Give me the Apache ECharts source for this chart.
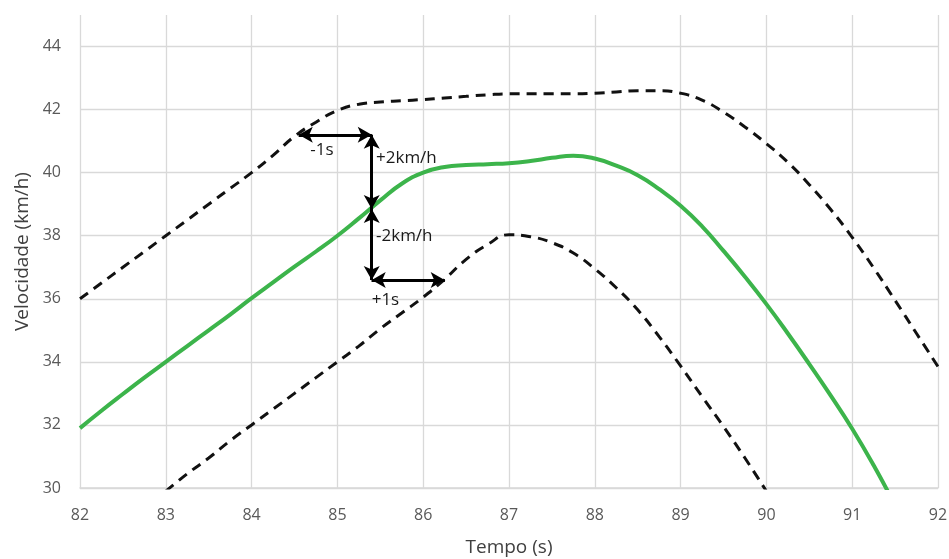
<!DOCTYPE html>
<html>
<head>
<meta charset="utf-8">
<script src="https://cdn.jsdelivr.net/npm/echarts@6/dist/echarts.min.js"></script>
<style>
  html, body { margin: 0; padding: 0; background: #fff; }
  #main { width: 949px; height: 559px; }
</style>
</head>
<body>
<div id="main"></div>
<script>
// measured speed (green) and the +/- tolerance bands (dashed), read every 0.25 s
// (points just below 30 are clipped by the grid)
const speed = [
  [82, 31.9], [82.25, 32.45], [82.5, 32.98], [82.75, 33.5], [83, 34.0], [83.25, 34.5],
  [83.5, 35.0], [83.75, 35.5], [84, 36.02], [84.25, 36.52], [84.5, 37.02], [84.75, 37.5],
  [85, 38.0], [85.25, 38.55], [85.5, 39.12], [85.75, 39.65], [86, 40.0], [86.25, 40.18],
  [86.5, 40.24], [86.75, 40.27], [87, 40.3], [87.25, 40.37], [87.5, 40.47], [87.75, 40.54],
  [88, 40.45], [88.25, 40.22], [88.5, 39.92], [88.75, 39.48], [89, 38.95], [89.25, 38.3],
  [89.5, 37.52], [89.75, 36.7], [90, 35.83], [90.25, 34.9], [90.5, 33.93], [90.75, 32.93],
  [91, 31.88], [91.25, 30.72], [91.5, 29.45]
];
const upperBand = [
  [82, 36.0], [82.25, 36.5], [82.5, 37.0], [82.75, 37.5], [83, 38.0], [83.25, 38.5],
  [83.5, 39.0], [83.75, 39.5], [84, 40.0], [84.25, 40.55], [84.5, 41.15], [84.75, 41.6],
  [85, 41.97], [85.25, 42.17], [85.5, 42.24], [85.75, 42.28], [86, 42.32], [86.25, 42.37],
  [86.5, 42.42], [86.75, 42.47], [87, 42.5], [87.25, 42.5], [87.5, 42.5], [87.75, 42.5],
  [88, 42.52], [88.25, 42.56], [88.5, 42.6], [88.75, 42.6], [89, 42.52], [89.25, 42.3],
  [89.5, 41.92], [89.75, 41.45], [90, 40.92], [90.25, 40.33], [90.5, 39.62], [90.75, 38.83],
  [91, 37.95], [91.25, 36.98], [91.5, 35.95], [91.75, 34.9], [92, 33.85]
];
const lowerBand = [
  [83, 29.9], [83.25, 30.45], [83.5, 30.95], [83.75, 31.5], [84, 32.0], [84.25, 32.5],
  [84.5, 33.0], [84.75, 33.5], [85, 34.0], [85.25, 34.5], [85.5, 35.05], [85.75, 35.55],
  [86, 36.05], [86.25, 36.62], [86.5, 37.25], [86.75, 37.72], [87, 38.03], [87.25, 37.97],
  [87.5, 37.78], [87.75, 37.45], [88, 36.95], [88.25, 36.35], [88.5, 35.65], [88.75, 34.8],
  [89, 33.87], [89.25, 32.9], [89.5, 31.95], [89.75, 30.95], [90, 29.9]
];

// tolerance arrows: [from, to]
const arrows = [
  [[85.4, 41.2], [84.55, 41.2]],
  [[85.4, 41.2], [85.4, 38.85]],
  [[85.4, 38.85], [85.4, 36.6]],
  [[85.4, 36.6], [86.25, 36.6]]
];
const arrowTexts = [
  { text: '-1s', at: [84.82, 40.71], align: 'center' },
  { text: '+2km/h', at: [85.45, 40.45], align: 'left' },
  { text: '-2km/h', at: [85.45, 38.0], align: 'left' },
  { text: '+1s', at: [85.56, 35.96], align: 'center' }
];

const chart = echarts.init(document.getElementById('main'));

const font = '"Open Sans", "Noto Sans", sans-serif';
const gridColor = '#d9d9d9';

chart.setOption({
  animation: false,
  textStyle: { fontFamily: font },
  grid: { left: 80, right: 11, top: 15, bottom: 71, outerBoundsMode: 'none' },
  xAxis: {
    type: 'value',
    min: 82,
    max: 92,
    interval: 1,
    name: 'Tempo (s)',
    nameLocation: 'middle',
    nameGap: 50,
    nameTextStyle: { fontSize: 19, color: '#404040', fontFamily: font },
    axisLine: { show: true, lineStyle: { color: gridColor, width: 1.5 } },
    axisTick: { show: false },
    axisLabel: { margin: 19, fontSize: 16, color: '#595959', fontFamily: font },
    splitLine: { show: true, lineStyle: { color: gridColor, width: 1.3 } }
  },
  yAxis: {
    type: 'value',
    min: 30,
    max: 45,
    interval: 2,
    name: 'Velocidade (km/h)',
    nameLocation: 'middle',
    nameGap: 48,
    nameTextStyle: { fontSize: 19, color: '#404040', fontFamily: font },
    axisLine: { show: false },
    axisTick: { show: false },
    axisLabel: {
      margin: 19,
      fontSize: 16,
      color: '#595959',
      fontFamily: font,
      formatter: (v) => (v % 2 === 0 ? String(v) : '')
    },
    splitLine: { show: true, showMaxLine: false, lineStyle: { color: gridColor, width: 1.3 } }
  },
  series: [
    {
      name: 'Upper',
      type: 'line',
      data: upperBand,
      smooth: 0.5,
      symbol: 'none',
      lineStyle: { color: '#111', width: 3, type: [10, 7] }
    },
    {
      name: 'Lower',
      type: 'line',
      data: lowerBand,
      smooth: 0.5,
      symbol: 'none',
      lineStyle: { color: '#111', width: 3, type: [10, 7] }
    },
    {
      name: 'Velocidade',
      type: 'line',
      data: speed,
      smooth: 0.5,
      symbol: 'none',
      lineStyle: { color: '#3cb44b', width: 4 },
      z: 3
    },
    {
      name: 'Anotações',
      type: 'line',
      data: [],
      z: 5,
      markLine: {
        silent: true,
        symbol: ['none', 'arrow'],
        symbolSize: [12, 14],
        lineStyle: { color: '#000', width: 3, type: 'solid' },
        label: { show: false },
        data: arrows.flatMap((a) => [
          [{ coord: a[0] }, { coord: a[1] }],
          [{ coord: a[1] }, { coord: a[0] }]
        ])
      },
      markPoint: {
        silent: true,
        symbol: 'circle',
        symbolSize: 0,
        label: {
          show: true,
          color: '#1a1a1a',
          fontSize: 17,
          fontFamily: font,
          formatter: (p) => p.name
        },
        data: arrowTexts.map((t) => ({
          name: t.text,
          coord: t.at,
          label: { align: t.align, verticalAlign: 'middle', position: 'inside' }
        }))
      }
    }
  ]
});

window.addEventListener('resize', () => chart.resize());
</script>
</body>
</html>
